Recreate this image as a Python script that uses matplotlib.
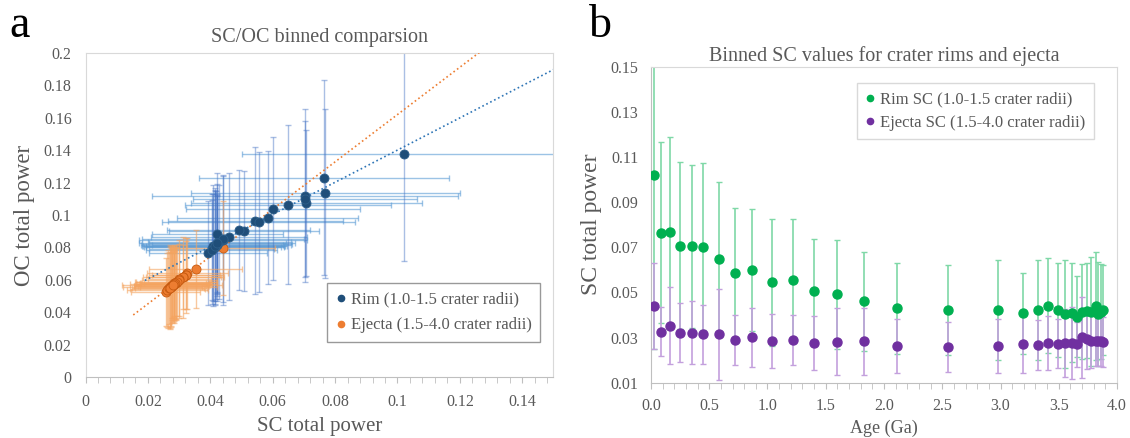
import numpy as np
import matplotlib
matplotlib.use('Agg')
import matplotlib.pyplot as plt
from matplotlib.lines import Line2D
from matplotlib.ticker import MultipleLocator, FormatStrFormatter

plt.rcParams['font.family'] = ['Liberation Serif', 'DejaVu Serif']

# age bins (Ga)
age = [0.03, 0.09, 0.16, 0.25, 0.35, 0.45, 0.58, 0.72, 0.87, 1.04, 1.22, 1.40,
       1.60, 1.83, 2.11, 2.55, 2.98, 3.19, 3.32, 3.41, 3.49, 3.55, 3.61, 3.66,
       3.70, 3.74, 3.78, 3.82, 3.84, 3.86, 3.88]

# rim SC (also x of panel a)
rim_sc = [0.1020, 0.0765, 0.0769, 0.0707, 0.0704, 0.0703, 0.0648, 0.0584, 0.0601,
          0.0544, 0.0555, 0.0508, 0.0491, 0.0460, 0.0429, 0.0422, 0.0422, 0.0407,
          0.0422, 0.0441, 0.0422, 0.0404, 0.0410, 0.0392, 0.0415, 0.0419, 0.0415,
          0.0441, 0.0404, 0.0415, 0.0422]
rim_sc_err = [0.077, 0.040, 0.042, 0.037, 0.036, 0.037, 0.034, 0.029, 0.027, 0.028,
              0.027, 0.023, 0.024, 0.022, 0.020, 0.020, 0.022, 0.018, 0.022, 0.021,
              0.021, 0.024, 0.022, 0.018, 0.021, 0.021, 0.024, 0.024, 0.023, 0.021,
              0.020]

ej_sc = [0.0441, 0.0326, 0.0353, 0.0322, 0.0322, 0.0314, 0.0314, 0.0289, 0.0301,
         0.0283, 0.0289, 0.0274, 0.0282, 0.0283, 0.0264, 0.0257, 0.0262, 0.0271,
         0.0268, 0.0277, 0.0273, 0.0276, 0.0277, 0.0270, 0.0301, 0.0292, 0.0285,
         0.0285, 0.0286, 0.0285, 0.0279]
ej_sc_err = [0.019, 0.011, 0.017, 0.013, 0.014, 0.013, 0.020, 0.011, 0.013, 0.012,
             0.011, 0.012, 0.015, 0.015, 0.012, 0.011, 0.012, 0.013, 0.011, 0.012,
             0.011, 0.015, 0.016, 0.010, 0.018, 0.013, 0.012, 0.011, 0.011, 0.011,
             0.011]

# panel a: OC values and spreads
rim_oc = [0.1377, 0.1230, 0.1134, 0.1075, 0.1120, 0.1097, 0.1062, 0.0984, 0.1038,
          0.0966, 0.0956, 0.0904, 0.0906, 0.0867, 0.0835, 0.0881, 0.0822, 0.0800,
          0.0828, 0.0846, 0.0818, 0.0790, 0.0812, 0.0764, 0.0802, 0.0815, 0.0808,
          0.0852, 0.0785, 0.0810, 0.0825]
rim_xerr = [0.052, 0.040, 0.043, 0.037, 0.049, 0.036, 0.033, 0.029, 0.028, 0.028,
            0.031, 0.024, 0.023, 0.025, 0.023, 0.021, 0.024, 0.022, 0.025, 0.027,
            0.021, 0.020, 0.023, 0.019, 0.022, 0.024, 0.022, 0.026, 0.021, 0.023,
            0.022]
rim_yerr = [0.066, 0.060, 0.052, 0.045, 0.053, 0.048, 0.049, 0.041, 0.044, 0.045,
            0.043, 0.037, 0.037, 0.039, 0.035, 0.038, 0.031, 0.033, 0.036, 0.040,
            0.030, 0.034, 0.037, 0.032, 0.035, 0.033, 0.036, 0.039, 0.031, 0.034,
            0.030]

ej_oc = [0.0795, 0.0641, 0.0670, 0.0632, 0.0629, 0.0615, 0.0618, 0.0582, 0.0605,
         0.0574, 0.0585, 0.0560, 0.0572, 0.0576, 0.0545, 0.0526, 0.0538, 0.0556,
         0.0550, 0.0565, 0.0558, 0.0562, 0.0566, 0.0553, 0.0600, 0.0588, 0.0578,
         0.0576, 0.0580, 0.0574, 0.0568]
ej_xerr = [0.0165, 0.013, 0.015, 0.012, 0.011, 0.013, 0.012, 0.011, 0.010, 0.012,
           0.013, 0.012, 0.011, 0.014, 0.012, 0.011, 0.013, 0.015, 0.012, 0.011,
           0.010, 0.012, 0.016, 0.011, 0.012, 0.013, 0.011, 0.012, 0.010, 0.011,
           0.012]
ej_yerr = [0.029, 0.022, 0.024, 0.021, 0.023, 0.025, 0.020, 0.022, 0.024, 0.021,
           0.023, 0.025, 0.022, 0.020, 0.024, 0.021, 0.023, 0.026, 0.022, 0.021,
           0.024, 0.023, 0.020, 0.025, 0.022, 0.021, 0.023, 0.024, 0.022, 0.020,
           0.023]

# linear trendlines (slope, intercept, x start)
rim_fit = (0.992, 0.0408, 0.019)
ej_fit = (1.458, 0.0161, 0.0153)

GRAY = '#595959'
FRAME = '#d9d9d9'

fig = plt.figure(figsize=(11.3, 4.38), dpi=100)
ax1 = fig.add_axes([0.0757, 0.1386, 0.4141, 0.7411])
ax2 = fig.add_axes([0.5761, 0.1263, 0.4124, 0.7214])

# ---- panel a ----
ax1.errorbar(rim_sc, rim_oc, xerr=rim_xerr, fmt='none', ecolor='#5b9bd5',
             elinewidth=1, capsize=2, alpha=0.6, zorder=2)
ax1.errorbar(rim_sc, rim_oc, yerr=rim_yerr, fmt='none', ecolor='#4472c4',
             elinewidth=1, capsize=2, alpha=0.45, zorder=2)
ax1.errorbar(ej_sc, ej_oc, xerr=ej_xerr, yerr=ej_yerr, fmt='none',
             ecolor='#f4a460', elinewidth=1, capsize=2, alpha=0.6, zorder=3)

xx = np.linspace(rim_fit[2], 0.15, 50)
ax1.plot(xx, rim_fit[0] * xx + rim_fit[1], ':', color='#2e75b6', lw=1.2, zorder=4)
xx = np.linspace(ej_fit[2], 0.15, 50)
ax1.plot(xx, ej_fit[0] * xx + ej_fit[1], ':', color='#ed7d31', lw=1.2, zorder=4)

ax1.plot(ej_sc, ej_oc, 'o', ms=6.5, mfc='#ed7d31', mec='#c55a11', mew=0.6, zorder=5)
ax1.plot(rim_sc, rim_oc, 'o', ms=6.5, mfc='#1f4e79', mec='#2e5f8a', mew=0.6, zorder=6)

ax1.set_xlim(0, 0.15)
ax1.set_ylim(0, 0.2)
ax1.xaxis.set_major_locator(MultipleLocator(0.02))
ax1.xaxis.set_minor_locator(MultipleLocator(0.004))
ax1.yaxis.set_major_locator(MultipleLocator(0.02))
ax1.xaxis.set_major_formatter(plt.FuncFormatter(lambda v, p: f'{v:g}'))
ax1.yaxis.set_major_formatter(plt.FuncFormatter(lambda v, p: f'{v:g}'))
ax1.tick_params(axis='x', which='both', length=4, color='#bfbfbf', labelsize=11.5,
                labelcolor=GRAY, pad=8)
ax1.tick_params(axis='y', length=0, labelsize=11.5, labelcolor=GRAY, pad=10)
for s in ax1.spines.values():
    s.set_color(FRAME)
ax1.spines['bottom'].set_color('#bfbfbf')
ax1.set_title('SC/OC binned comparsion', fontsize=14.5, color=GRAY, pad=8)
ax1.set_xlabel('SC total power', fontsize=15, color=GRAY, labelpad=5)
ax1.set_ylabel('OC total power', fontsize=16.5, color=GRAY, labelpad=6)

h1 = [Line2D([], [], ls='none', marker='o', ms=4.5, color='#1f4e79'),
      Line2D([], [], ls='none', marker='o', ms=4.5, color='#ed7d31')]
leg = ax1.legend(h1, ['Rim (1.0-1.5 crater radii)', 'Ejecta (1.5-4.0 crater radii)'],
                 loc='upper right', bbox_to_anchor=(0.971, 0.29), borderaxespad=0,
                 fontsize=12, frameon=True, fancybox=False, edgecolor='#808080',
                 handlelength=0.6, handletextpad=0.3, borderpad=0.5,
                 labelspacing=0.6, labelcolor=GRAY)
leg.get_frame().set_linewidth(1)

# ---- panel b ----
ax2.errorbar(age, rim_sc, yerr=rim_sc_err, fmt='none', ecolor='#7fd8a7',
             elinewidth=1.2, capsize=2, zorder=2)
ax2.errorbar(age, ej_sc, yerr=ej_sc_err, fmt='none', ecolor='#c3a0dd',
             elinewidth=1.2, capsize=2, zorder=3)
ax2.plot(age, rim_sc, 'o', ms=6.5, color='#00b050', zorder=5)
ax2.plot(age, ej_sc, 'o', ms=6.5, color='#7030a0', zorder=5)

ax2.set_xlim(0, 4.0)
ax2.set_ylim(0.01, 0.15)
ax2.xaxis.set_major_locator(MultipleLocator(0.5))
ax2.xaxis.set_minor_locator(MultipleLocator(0.1))
ax2.set_yticks(np.arange(0.01, 0.151, 0.02))
ax2.xaxis.set_major_formatter(FormatStrFormatter('%.1f'))
ax2.yaxis.set_major_formatter(FormatStrFormatter('%.2f'))
ax2.tick_params(axis='x', which='both', length=4, color='#bfbfbf', labelsize=11.5,
                labelcolor=GRAY, pad=7)
ax2.tick_params(axis='y', length=0, labelsize=11.5, labelcolor=GRAY, pad=9)
for s in ax2.spines.values():
    s.set_color(FRAME)
ax2.spines['bottom'].set_color('#bfbfbf')
ax2.spines['left'].set_color('#bfbfbf')
ax2.set_title('Binned SC values for crater rims and ejecta', fontsize=14.5,
              color=GRAY, pad=4)
ax2.set_xlabel('Age (Ga)', fontsize=13, color=GRAY, labelpad=4)
ax2.set_ylabel('SC total power', fontsize=17, color=GRAY, labelpad=6)

h2 = [Line2D([], [], ls='none', marker='o', ms=4.5, color='#00b050'),
      Line2D([], [], ls='none', marker='o', ms=4.5, color='#7030a0')]
leg2 = ax2.legend(h2, ['Rim SC (1.0-1.5 crater radii)', 'Ejecta SC (1.5-4.0 crater radii)'],
                  loc='upper right', bbox_to_anchor=(0.95, 0.948), borderaxespad=0,
                  fontsize=12, frameon=True, fancybox=False, edgecolor='#d0d0d0',
                  handlelength=0.6, handletextpad=0.3, borderpad=0.5,
                  labelspacing=0.45, labelcolor=GRAY)

fig.text(0.008, 0.9155, 'a', fontsize=33, color='black', va='baseline')
fig.text(0.521, 0.9155, 'b', fontsize=33, color='black', va='baseline')

fig.savefig('out.png', dpi=100)
